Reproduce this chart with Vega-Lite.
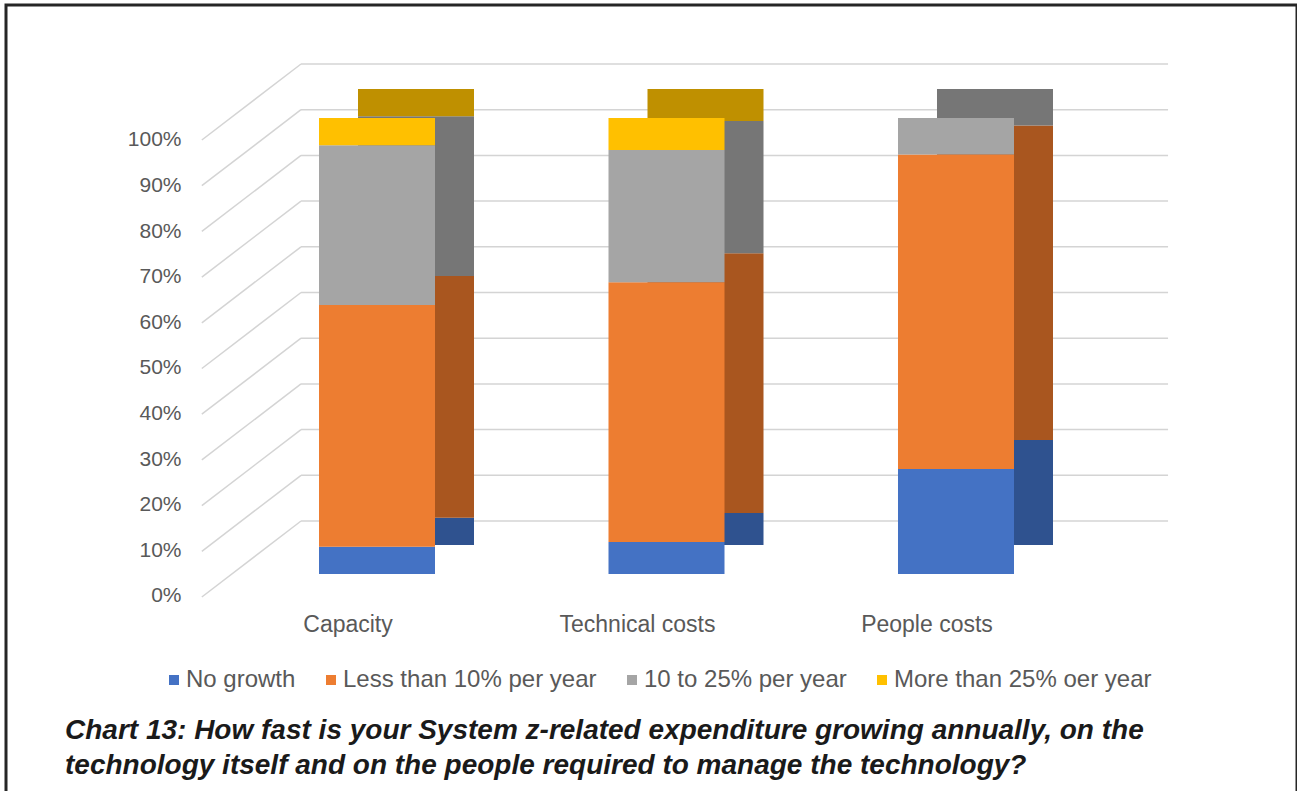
{
  "$schema": "https://vega.github.io/schema/vega-lite/v6.json",
  "autosize": {"type": "none"},
  "width": 1291,
  "height": 800,
  "padding": {"left": 6, "top": 5, "right": 0, "bottom": 0},
  "background": "white",
  "config": {
    "view": {"stroke": "#262626", "strokeWidth": 3},
    "font": "Liberation Sans"
  },
  "title": {
    "text": ["Chart 13: How fast is your System z-related expenditure growing annually, on the", "technology itself and on the people required to manage the technology?"],
    "orient": "bottom",
    "anchor": "start",
    "frame": "group",
    "offset": -88,
    "dx": 59,
    "fontSize": 28,
    "fontWeight": "bold",
    "fontStyle": "italic",
    "color": "#1a1a1a",
    "lineHeight": 35,
    "font": "Liberation Sans"
  },
  "datasets": {
    "bars": [
      {"category": "Capacity", "growth": "No growth", "rank": 1, "pct": 6},
      {"category": "Capacity", "growth": "Less than 10% per year", "rank": 2, "pct": 53},
      {"category": "Capacity", "growth": "10 to 25% per year", "rank": 3, "pct": 35},
      {"category": "Capacity", "growth": "More than 25% oer year", "rank": 4, "pct": 6},
      {"category": "Technical costs", "growth": "No growth", "rank": 1, "pct": 7},
      {"category": "Technical costs", "growth": "Less than 10% per year", "rank": 2, "pct": 57},
      {"category": "Technical costs", "growth": "10 to 25% per year", "rank": 3, "pct": 29},
      {"category": "Technical costs", "growth": "More than 25% oer year", "rank": 4, "pct": 7},
      {"category": "People costs", "growth": "No growth", "rank": 1, "pct": 23},
      {"category": "People costs", "growth": "Less than 10% per year", "rank": 2, "pct": 69},
      {"category": "People costs", "growth": "10 to 25% per year", "rank": 3, "pct": 8},
      {"category": "People costs", "growth": "More than 25% oer year", "rank": 4, "pct": 0}
    ],
    "grid": [
      {"v": 0}, {"v": 10}, {"v": 20}, {"v": 30}, {"v": 40}, {"v": 50},
      {"v": 60}, {"v": 70}, {"v": 80}, {"v": 90}, {"v": 100}
    ]
  },
  "layer": [
    {
      "data": {"name": "grid"},
      "mark": {"type": "rule", "color": "#d4d4d4", "strokeWidth": 1.5, "yOffset": 76},
      "encoding": {
        "x": {
          "datum": "Capacity", "bandPosition": -1.01, "type": "nominal",
          "scale": {"domain": ["Capacity", "Technical costs", "People costs"], "range": [313, 1008], "paddingInner": 0.5993, "paddingOuter": 0, "round": false},
          "axis": {"orient": "bottom", "offset": -205, "title": null, "domain": false, "ticks": false, "grid": false, "labelPadding": 13, "labelFontSize": 23, "labelColor": "#595959", "labelOffset": -29, "labelAngle": 0, "labelFont": "Liberation Sans"}
        },
        "x2": {"datum": "Capacity", "bandPosition": -0.155},
        "y": {"field": "v", "type": "quantitative", "scale": {"domain": [-62.14, 112.91], "nice": false, "zero": false}, "axis": null},
        "y2": {"field": "v"}
      }
    },
    {
      "data": {"name": "grid"},
      "mark": {"type": "rule", "color": "#d4d4d4", "strokeWidth": 1.5},
      "encoding": {
        "x": {
          "datum": "Capacity", "bandPosition": -0.155, "type": "nominal",
          "scale": {"domain": ["Capacity", "Technical costs", "People costs"], "range": [313, 1008], "paddingInner": 0.5993, "paddingOuter": 0, "round": false},
          "axis": {"orient": "bottom", "offset": -205, "title": null, "domain": false, "ticks": false, "grid": false, "labelPadding": 13, "labelFontSize": 23, "labelColor": "#595959", "labelOffset": -29, "labelAngle": 0, "labelFont": "Liberation Sans"}
        },
        "x2": {"datum": "People costs", "bandPosition": 2.328},
        "y": {"field": "v", "type": "quantitative", "scale": {"domain": [-62.14, 112.91], "nice": false, "zero": false}, "axis": null}
      }
    },
    {
      "data": {"name": "bars"},
      "mark": {"type": "bar", "xOffset": 39, "yOffset": -29, "y2Offset": -29},
      "encoding": {
        "x": {
          "field": "category", "type": "nominal",
          "scale": {"domain": ["Capacity", "Technical costs", "People costs"], "range": [313, 1008], "paddingInner": 0.5993, "paddingOuter": 0, "round": false},
          "axis": {"orient": "bottom", "offset": -205, "title": null, "domain": false, "ticks": false, "grid": false, "labelPadding": 13, "labelFontSize": 23, "labelColor": "#595959", "labelOffset": -29, "labelAngle": 0, "labelFont": "Liberation Sans"}
        },
        "y": {"field": "pct", "type": "quantitative", "stack": "zero", "scale": {"domain": [-50.66, 124.78], "nice": false, "zero": false}, "axis": null},
        "color": {
          "field": "growth", "type": "nominal",
          "scale": {"domain": ["No growth", "Less than 10% per year", "10 to 25% per year", "More than 25% oer year"], "range": ["#2F528F", "#A9561F", "#767676", "#BF9000"]},
          "legend": null
        },
        "order": {"field": "rank", "type": "quantitative"}
      }
    },
    {
      "data": {"name": "bars"},
      "mark": {"type": "bar"},
      "encoding": {
        "x": {
          "field": "category", "type": "nominal",
          "scale": {"domain": ["Capacity", "Technical costs", "People costs"], "range": [313, 1008], "paddingInner": 0.5993, "paddingOuter": 0, "round": false},
          "axis": {"orient": "bottom", "offset": -205, "title": null, "domain": false, "ticks": false, "grid": false, "labelPadding": 13, "labelFontSize": 23, "labelColor": "#595959", "labelOffset": -29, "labelAngle": 0, "labelFont": "Liberation Sans"}
        },
        "y": {
          "field": "pct", "type": "quantitative", "stack": "zero",
          "scale": {"domain": [-50.66, 124.78], "nice": false, "zero": false},
          "axis": {"orient": "left", "offset": -197, "title": null, "domain": false, "ticks": false, "grid": false, "values": [0, 10, 20, 30, 40, 50, 60, 70, 80, 90, 100], "labelExpr": "datum.value + '%'", "labelPadding": 22, "labelFontSize": 21, "labelColor": "#595959", "labelOffset": 22, "labelFont": "Liberation Sans"}
        },
        "color": {
          "field": "growth", "type": "nominal",
          "scale": {"domain": ["No growth", "Less than 10% per year", "10 to 25% per year", "More than 25% oer year"], "range": ["#4472C4", "#ED7D31", "#A5A5A5", "#FFC000"]},
          "legend": {"orient": "none", "legendX": 156, "legendY": 663, "direction": "horizontal", "columns": 4, "title": null, "symbolType": "square", "symbolSize": 100, "symbolStrokeWidth": 0, "labelFontSize": 24, "labelColor": "#595959", "labelOffset": 0, "columnPadding": 23, "labelFont": "Liberation Sans", "labelLimit": 400}
        },
        "order": {"field": "rank", "type": "quantitative"}
      }
    }
  ],
  "resolve": {"scale": {"y": "independent", "color": "independent"}}
}
